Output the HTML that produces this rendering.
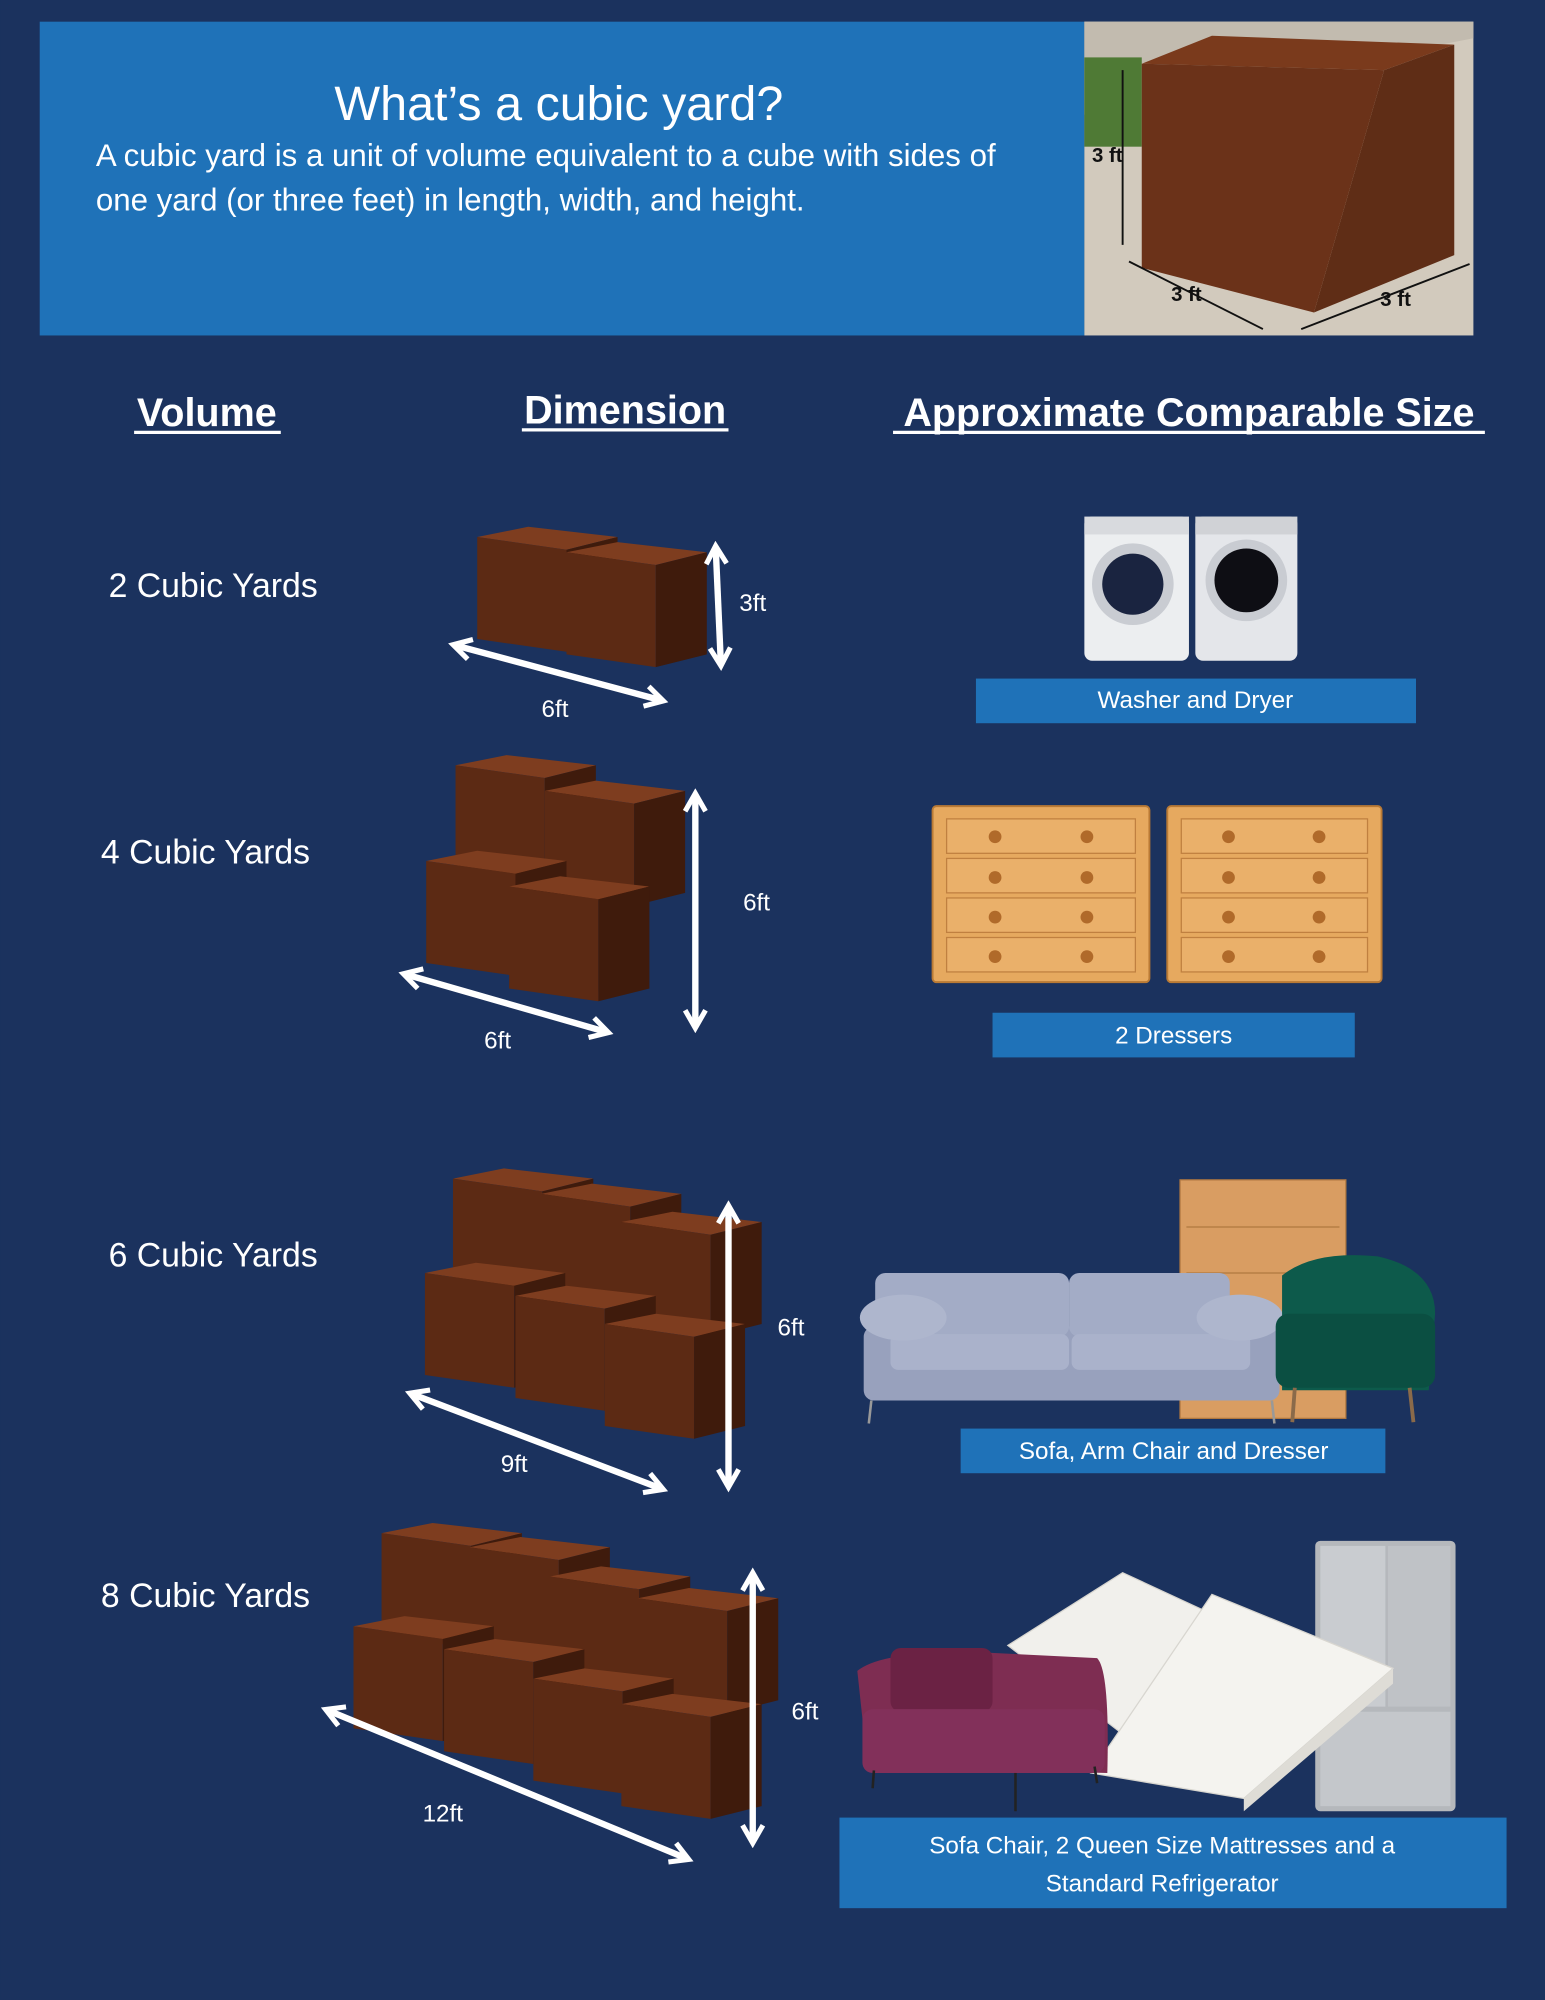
<!DOCTYPE html>
<html><head><meta charset="utf-8"><style>
html,body{margin:0;padding:0;background:#1b325e;}
svg{display:block;}
text{font-family:"Liberation Sans",sans-serif;}
</style></head><body>
<svg width="1545" height="2000" viewBox="0 0 1211 1568" xmlns="http://www.w3.org/2000/svg">
<defs>
<g id="cube">
<polygon points="0,8 40,0 110,8 70,18" fill="#7e3d1f"/>
<polygon points="0,8 70,18 70,98 0,88" fill="#5c2a14"/>
<polygon points="70,18 110,8 110,88 70,98" fill="#3f1b0c"/>
</g>
<marker id="ah" viewBox="0 0 10 10" refX="7" refY="5" markerWidth="4" markerHeight="4" orient="auto-start-reverse">
<path d="M1,1 L8,5 L1,9" fill="none" stroke="#fff" stroke-width="2"/>
</marker>
</defs>
<rect width="1211" height="1568" fill="#1b325e"/>
<!-- header -->
<rect x="31" y="17" width="819" height="246" fill="#1f72b8"/>
<text x="438" y="94" font-size="38" fill="#fff" text-anchor="middle">What’s a cubic yard?</text>
<text x="75" y="130" font-size="24.5" fill="#fff">A cubic yard is a unit of volume equivalent to a cube with sides of</text>
<text x="75" y="165" font-size="24.5" fill="#fff">one yard (or three feet) in length, width, and height.</text>
<!-- photo -->
<rect x="850" y="17" width="305" height="246" fill="#d2cabd"/>
<polygon points="850,17 1155,17 1155,30 850,90" fill="#c2bbaf"/>
<rect x="850" y="45" width="45" height="70" fill="#4f7a35"/>
<polygon points="895,50 950,28 1140,35 1085,55" fill="#7a3a1c"/>
<polygon points="1085,55 1140,35 1140,200 1030,245" fill="#5f2d16"/>
<polygon points="895,50 1085,55 1030,245 895,210" fill="#6b3219"/>
<line x1="880" y1="55" x2="880" y2="192" stroke="#111" stroke-width="1.5"/>
<line x1="885" y1="205" x2="990" y2="258" stroke="#111" stroke-width="1.5"/>
<line x1="1020" y1="258" x2="1152" y2="207" stroke="#111" stroke-width="1.5"/>
<text x="856" y="127" font-size="16" font-weight="bold" fill="#111">3 ft</text>
<text x="918" y="236" font-size="16" font-weight="bold" fill="#111">3 ft</text>
<text x="1082" y="240" font-size="16" font-weight="bold" fill="#111">3 ft</text>
<!-- column headings -->
<g font-size="31" font-weight="bold" fill="#fff" text-anchor="middle">
<text x="162" y="334">Volume</text>
<text x="490" y="332">Dimension</text>
<text x="932" y="334">Approximate Comparable Size</text>
</g>
<g stroke="#fff" stroke-width="2.5">
<line x1="105" y1="339" x2="220" y2="339"/>
<line x1="409" y1="337" x2="571" y2="337"/>
<line x1="700" y1="339" x2="1164" y2="339"/>
</g>
<!-- labels -->
<g font-size="26.5" fill="#fff">
<text x="85" y="468">2 Cubic Yards</text>
<text x="79" y="677">4 Cubic Yards</text>
<text x="85" y="993">6 Cubic Yards</text>
<text x="79" y="1260">8 Cubic Yards</text>
</g>
<use href="#cube" x="374" y="413"/><use href="#cube" x="444" y="425"/>
<use href="#cube" x="357" y="592"/><use href="#cube" x="427" y="612"/>
<use href="#cube" x="334" y="667"/><use href="#cube" x="399" y="687"/>
<use href="#cube" x="355" y="916"/><use href="#cube" x="424" y="928"/><use href="#cube" x="487" y="950"/>
<use href="#cube" x="333" y="990"/><use href="#cube" x="404" y="1008"/><use href="#cube" x="474" y="1030"/>
<use href="#cube" x="299" y="1194"/><use href="#cube" x="368" y="1205"/><use href="#cube" x="431" y="1228"/><use href="#cube" x="500" y="1245"/>
<use href="#cube" x="277" y="1267"/><use href="#cube" x="348" y="1285"/><use href="#cube" x="418" y="1308"/><use href="#cube" x="487" y="1328"/>
<!-- arrows -->
<g stroke="#fff" stroke-width="5" fill="none" marker-start="url(#ah)" marker-end="url(#ah)">
<line x1="357" y1="506" x2="518" y2="549"/>
<line x1="561" y1="430" x2="565" y2="520"/>
<line x1="318" y1="764" x2="475" y2="809"/>
<line x1="545" y1="624" x2="545" y2="804"/>
<line x1="323" y1="1093" x2="518" y2="1167"/>
<line x1="571" y1="947" x2="571" y2="1164"/>
<line x1="257" y1="1341" x2="538" y2="1457"/>
<line x1="590" y1="1235" x2="590" y2="1443"/>
</g>
<g font-size="19" fill="#fff" text-anchor="middle">
<text x="590" y="479">3ft</text><text x="435" y="562">6ft</text>
<text x="593" y="714">6ft</text><text x="390" y="822">6ft</text>
<text x="620" y="1047">6ft</text><text x="403" y="1154">9ft</text>
<text x="631" y="1348">6ft</text><text x="347" y="1428">12ft</text>
</g>
<!-- washer dryer -->
<rect x="850" y="405" width="82" height="113" rx="6" fill="#eceef0"/>
<rect x="937" y="405" width="80" height="113" rx="6" fill="#e4e6ea"/>
<rect x="850" y="405" width="82" height="14" fill="#d8dade"/>
<rect x="937" y="405" width="80" height="14" fill="#d0d2d6"/>
<circle cx="888" cy="458" r="32" fill="#c9ccd2"/><circle cx="888" cy="458" r="24" fill="#1a2440"/>
<circle cx="977" cy="455" r="32" fill="#c9ccd2"/><circle cx="977" cy="455" r="25" fill="#0e0e14"/>
<rect x="765" y="532" width="345" height="35" fill="#1f72b8"/>
<text x="937" y="555" font-size="19" fill="#fff" text-anchor="middle">Washer and Dryer</text>
<!-- dressers -->
<g fill="#e6a95f" stroke="#b97a35" stroke-width="1.5">
<rect x="731" y="632" width="170" height="138" rx="3"/>
<rect x="915" y="632" width="168" height="138" rx="3"/>
</g>
<g fill="#eab06a" stroke="#c08040" stroke-width="1">
<rect x="742" y="642" width="148" height="27"/><rect x="742" y="673" width="148" height="27"/><rect x="742" y="704" width="148" height="27"/><rect x="742" y="735" width="148" height="27"/>
<rect x="926" y="642" width="146" height="27"/><rect x="926" y="673" width="146" height="27"/><rect x="926" y="704" width="146" height="27"/><rect x="926" y="735" width="146" height="27"/>
</g>
<g fill="#b06a2a">
<circle cx="780" cy="656" r="5"/><circle cx="852" cy="656" r="5"/><circle cx="780" cy="688" r="5"/><circle cx="852" cy="688" r="5"/><circle cx="780" cy="719" r="5"/><circle cx="852" cy="719" r="5"/><circle cx="780" cy="750" r="5"/><circle cx="852" cy="750" r="5"/>
<circle cx="963" cy="656" r="5"/><circle cx="1034" cy="656" r="5"/><circle cx="963" cy="688" r="5"/><circle cx="1034" cy="688" r="5"/><circle cx="963" cy="719" r="5"/><circle cx="1034" cy="719" r="5"/><circle cx="963" cy="750" r="5"/><circle cx="1034" cy="750" r="5"/>
</g>
<rect x="778" y="794" width="284" height="35" fill="#1f72b8"/>
<text x="920" y="818" font-size="19" fill="#fff" text-anchor="middle">2 Dressers</text>
<!-- sofa, dresser, chair -->
<rect x="925" y="925" width="130" height="187" fill="#d99d62" stroke="#b07840"/>
<g stroke="#b07840" fill="none"><line x1="930" y1="962" x2="1050" y2="962"/><line x1="930" y1="998" x2="1050" y2="998"/><line x1="930" y1="1034" x2="1050" y2="1034"/><line x1="930" y1="1070" x2="1050" y2="1070"/></g>
<rect x="677" y="1040" width="326" height="58" rx="8" fill="#98a1bd"/>
<rect x="686" y="998" width="152" height="50" rx="8" fill="#a3acc6"/>
<rect x="838" y="998" width="126" height="50" rx="8" fill="#a3acc6"/>
<rect x="698" y="1046" width="140" height="28" rx="6" fill="#aab2cb"/>
<rect x="840" y="1046" width="140" height="28" rx="6" fill="#aab2cb"/>
<ellipse cx="708" cy="1033" rx="34" ry="18" fill="#aeb6cd"/>
<ellipse cx="972" cy="1033" rx="34" ry="18" fill="#aeb6cd"/>
<line x1="683" y1="1098" x2="681" y2="1116" stroke="#999" stroke-width="2"/><line x1="997" y1="1098" x2="999" y2="1116" stroke="#999" stroke-width="2"/>
<path d="M1005,1000 Q1030,980 1080,985 Q1125,995 1125,1030 L1120,1090 L1005,1090 Z" fill="#0d5a4b"/>
<rect x="1000" y="1030" width="125" height="58" rx="10" fill="#0b4f42"/>
<line x1="1015" y1="1088" x2="1013" y2="1115" stroke="#8a6a4a" stroke-width="3"/><line x1="1105" y1="1088" x2="1108" y2="1115" stroke="#8a6a4a" stroke-width="3"/>
<rect x="753" y="1120" width="333" height="35" fill="#1f72b8"/>
<text x="920" y="1144" font-size="19" fill="#fff" text-anchor="middle">Sofa, Arm Chair and Dresser</text>
<!-- fridge, mattresses, chair -->
<rect x="1031" y="1208" width="110" height="212" rx="4" fill="#b5b8bc"/>
<rect x="1035" y="1212" width="51" height="126" fill="#c9ccd0"/><rect x="1088" y="1212" width="49" height="126" fill="#bfc2c6"/>
<rect x="1035" y="1342" width="102" height="74" fill="#c4c7cb"/>
<polygon points="790,1290 880,1233 1003,1290 900,1375" fill="#f1f0ec" stroke="#d8d6d0"/>
<polygon points="900,1375 1003,1290 1003,1300 905,1388" fill="#dcdad4"/>
<polygon points="855,1390 950,1250 1092,1308 975,1410" fill="#f4f3ef" stroke="#d8d6d0"/>
<polygon points="975,1410 1092,1308 1092,1320 975,1420" fill="#dedcd6"/>
<path d="M672,1310 Q690,1295 760,1295 L860,1300 Q870,1310 868,1390 L680,1385 Z" fill="#7e2d52"/>
<rect x="698" y="1292" width="80" height="50" rx="8" fill="#6b2244"/>
<rect x="676" y="1340" width="190" height="50" rx="8" fill="#82305a"/>
<line x1="685" y1="1388" x2="684" y2="1402" stroke="#222" stroke-width="2"/><line x1="796" y1="1390" x2="796" y2="1420" stroke="#222" stroke-width="2"/><line x1="858" y1="1385" x2="860" y2="1398" stroke="#222" stroke-width="2"/>
<rect x="658" y="1425" width="523" height="71" fill="#1f72b8"/>
<text x="911" y="1453" font-size="19" fill="#fff" text-anchor="middle">Sofa Chair, 2 Queen Size Mattresses and a</text>
<text x="911" y="1483" font-size="19" fill="#fff" text-anchor="middle">Standard Refrigerator</text>
</svg>
</body></html>
